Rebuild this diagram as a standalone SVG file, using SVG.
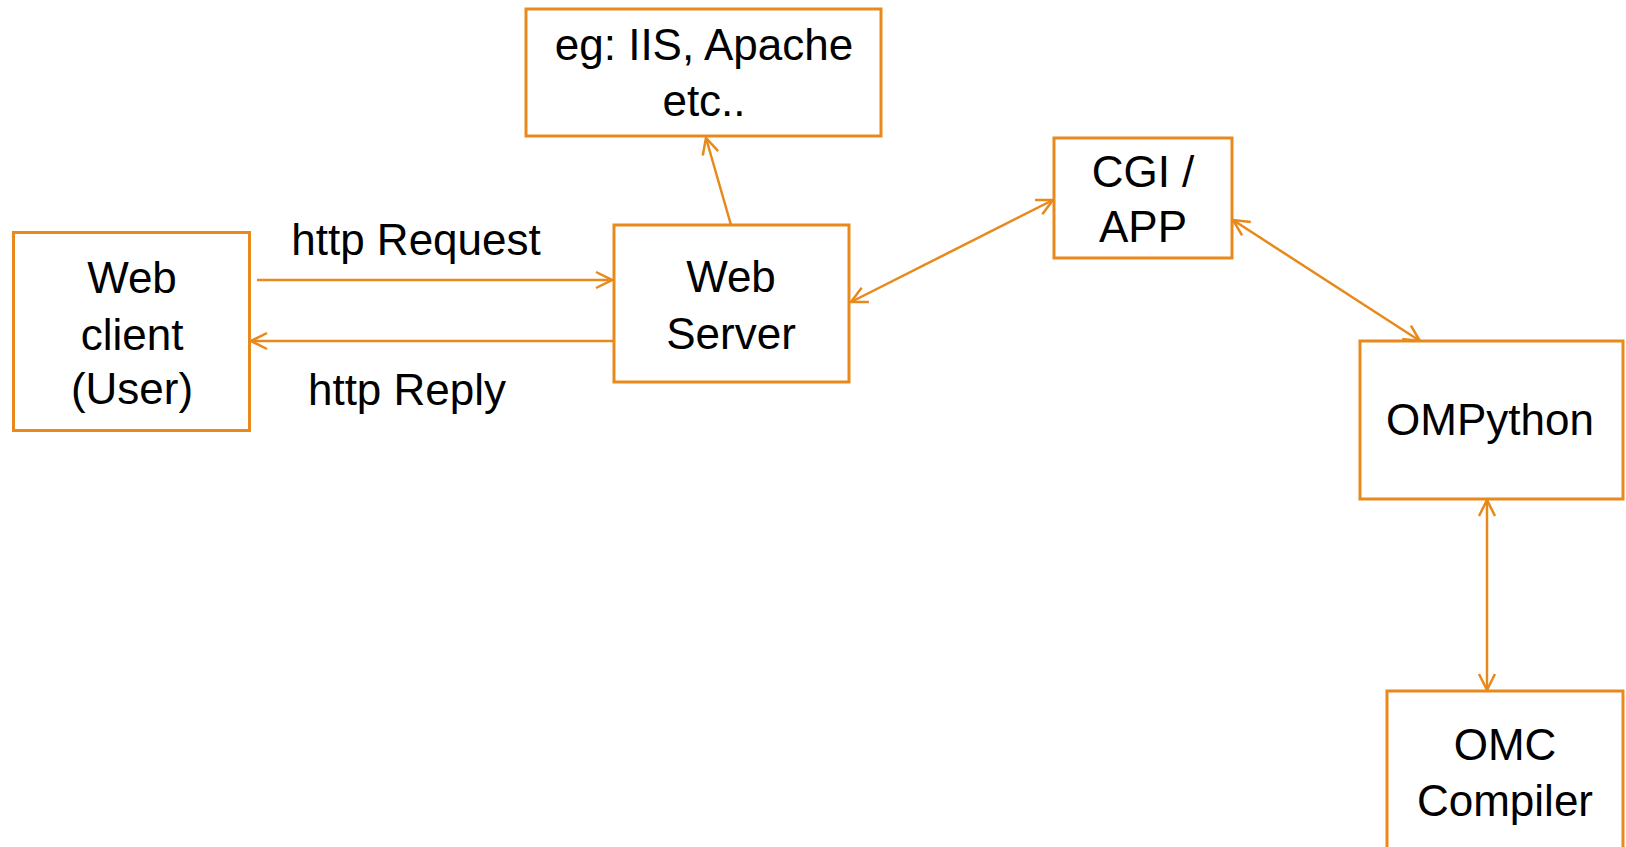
<svg xmlns="http://www.w3.org/2000/svg" width="1626" height="847" viewBox="0 0 1626 847">
<defs>
<style>
.box{fill:#fff;stroke:#E8891C;stroke-width:3}
.t{font-family:"Liberation Sans",Arial,sans-serif;font-size:44px;fill:#000;text-anchor:middle}
.c{stroke:#E8891C;stroke-width:2.5;fill:none}
</style>
<marker id="ah" viewBox="0 0 20 20" refX="18" refY="10" markerWidth="20" markerHeight="20" markerUnits="userSpaceOnUse" orient="auto-start-reverse">
<path d="M2,2 L18,10 L2,18" fill="none" stroke="#E8891C" stroke-width="2.5"/>
</marker>
</defs>
<rect width="1626" height="847" fill="#fff"/>
<g id="connectors">
<line class="c" x1="257" y1="280" x2="612" y2="280" marker-end="url(#ah)"/>
<line class="c" x1="613" y1="341" x2="251" y2="341" marker-end="url(#ah)"/>
<line class="c" x1="731" y1="225" x2="706" y2="138" marker-end="url(#ah)"/>
<line class="c" x1="851" y1="302" x2="1053" y2="200" marker-start="url(#ah)" marker-end="url(#ah)"/>
<line class="c" x1="1233" y1="220" x2="1420" y2="341" marker-start="url(#ah)" marker-end="url(#ah)"/>
<line class="c" x1="1487" y1="500" x2="1487" y2="690" marker-start="url(#ah)" marker-end="url(#ah)"/>
</g>
<g id="webclient">
<rect class="box" x="13.5" y="232.5" width="236" height="198"/>
<text class="t" x="132" y="293">Web</text>
<text class="t" x="132" y="350">client</text>
<text class="t" x="132" y="404">(User)</text>
</g>
<g id="webserver">
<rect class="box" x="614" y="225" width="235" height="157"/>
<text class="t" x="731" y="292">Web</text>
<text class="t" x="731" y="349">Server</text>
</g>
<g id="eg">
<rect class="box" x="526" y="9" width="355" height="127"/>
<text class="t" x="704" y="60">eg: IIS, Apache</text>
<text class="t" x="704" y="116">etc..</text>
</g>
<g id="cgi">
<rect class="box" x="1054" y="138" width="178" height="120"/>
<text class="t" x="1143" y="187">CGI /</text>
<text class="t" x="1143" y="242">APP</text>
</g>
<g id="ompython">
<rect class="box" x="1360" y="341" width="263" height="158"/>
<text class="t" x="1490" y="435">OMPython</text>
</g>
<g id="omc">
<rect class="box" x="1387" y="691" width="236" height="160"/>
<text class="t" x="1505" y="760">OMC</text>
<text class="t" x="1505" y="816">Compiler</text>
</g>
<g id="labels">
<text class="t" x="416" y="255">http Request</text>
<text class="t" x="407" y="405">http Reply</text>
</g>
</svg>
